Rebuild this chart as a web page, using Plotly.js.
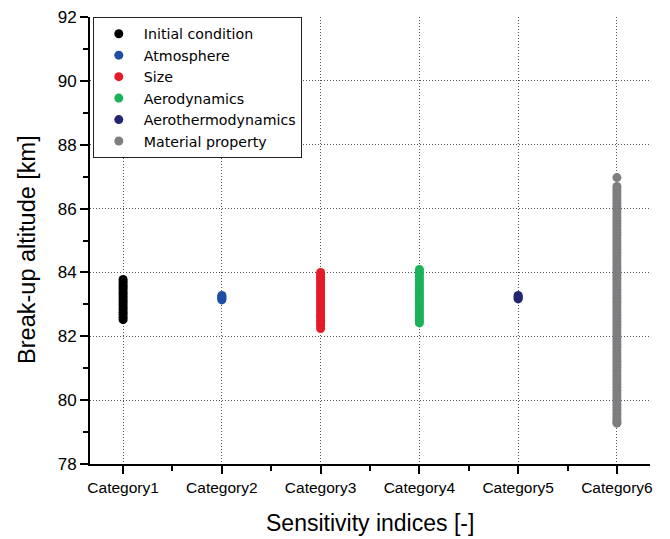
<!DOCTYPE html>
<html>
<head>
<meta charset="utf-8">
<script src="https://cdn.plot.ly/plotly-3.0.1.min.js"></script>
<style>html,body{margin:0;padding:0;background:#fff;}#chart{width:670px;height:539px;}</style>
</head>
<body>
<div id="chart"></div>
<script>
const categories = ["Category1","Category2","Category3","Category4","Category5","Category6"];
const seriesNames = ["Initial condition","Atmosphere","Size","Aerodynamics","Aerothermodynamics","Material property"];
const colors = ["#000000","#1f4fa3","#e41c28","#1bb25a","#242570","#7d7e80"];
const xTitle = "Sensitivity indices [-]";
const yTitle = "Break-up altitude [km]";

const initialCondition = [82.52,82.60,82.68,82.75,82.83,82.90,82.98,83.05,83.12,83.20,83.27,83.35,83.42,83.50,83.57,83.64,83.71,83.78];
const atmosphere = [83.14,83.18,83.21,83.25,83.28];
const size = [82.24,82.34,82.42,82.50,82.58,82.66,82.74,82.82,82.90,82.98,83.06,83.14,83.22,83.30,83.38,83.46,83.54,83.62,83.70,83.78,83.86,83.93,84.00];
const aerodynamics = [82.42,82.50,82.58,82.66,82.74,82.82,82.90,82.98,83.06,83.14,83.22,83.30,83.38,83.46,83.54,83.62,83.70,83.78,83.86,83.94,84.02,84.09];
const aerothermodynamics = [83.17,83.20,83.24,83.28];
const materialProperty = [86.97,86.69,86.61,86.52,86.43,86.34,86.25,86.16,86.07,85.98,85.89,85.80,85.71,85.62,85.53,85.44,85.35,85.26,85.17,85.08,84.99,84.90,84.81,84.72,84.63,84.54,84.45,84.36,84.27,84.18,84.09,84.00,83.91,83.82,83.73,83.64,83.55,83.46,83.37,83.28,83.19,83.10,83.01,82.92,82.83,82.74,82.65,82.56,82.47,82.38,82.29,82.20,82.11,82.02,81.93,81.84,81.75,81.66,81.57,81.48,81.39,81.30,81.21,81.12,81.03,80.94,80.85,80.76,80.67,80.58,80.49,80.40,80.31,80.22,80.13,80.04,79.95,79.86,79.77,79.68,79.59,79.50,79.41,79.34,79.28];

const yTickVals = [78,80,82,84,86,88,90,92];

const allSeries = [initialCondition, atmosphere, size, aerodynamics, aerothermodynamics, materialProperty];
const traces = allSeries.map((vals, i) => ({
  type: "scatter",
  mode: "markers",
  name: seriesNames[i],
  x: vals.map(() => i + 1),
  y: vals,
  marker: {color: colors[i], size: 9, line: {width: 0}},
  cliponaxis: false
}));

const layout = {
  width: 670, height: 539,
  margin: {l: 90, r: 20, t: 17, b: 75},
  paper_bgcolor: "#fff", plot_bgcolor: "#fff",
  font: {family: "Liberation Sans, Arial, sans-serif", color: "#000"},
  showlegend: true,
  legend: {
    x: 0.005, y: 1.0, xanchor: "left", yanchor: "top",
    bordercolor: "#222", borderwidth: 1, bgcolor: "#fff",
    font: {size: 14.2, family: "DejaVu Sans, Liberation Sans, sans-serif"},
    tracegroupgap: 0, itemwidth: 40
  },
  xaxis: {
    range: [0.665, 6.335],
    tickmode: "array", tickvals: [1,2,3,4,5,6], ticktext: categories,
    ticks: "outside", ticklen: 8, tickwidth: 2, tickcolor: "#000",
    showline: true, linewidth: 2, linecolor: "#000",
    showgrid: true, gridcolor: "#555", griddash: "1px,2px", gridwidth: 1,
    zeroline: false,
    tickfont: {size: 15.5},
    minor: {tickmode: "linear", tick0: 0.5, dtick: 1, ticks: "outside", ticklen: 5, tickwidth: 2, tickcolor: "#000", showgrid: false}
  },
  yaxis: {
    range: [78, 92],
    tickmode: "array", tickvals: yTickVals,
    ticks: "outside", ticklen: 8, tickwidth: 2, tickcolor: "#000",
    showline: true, linewidth: 2, linecolor: "#000",
    showgrid: true, gridcolor: "#555", griddash: "1px,2px", gridwidth: 1,
    zeroline: false,
    tickfont: {size: 17},
    minor: {tickmode: "linear", tick0: 79, dtick: 2, ticks: "outside", ticklen: 5, tickwidth: 2, tickcolor: "#000", showgrid: false}
  },
  annotations: [
    {text: yTitle, xref: "paper", yref: "paper", x: 0, y: 0.479, xanchor: "center", yanchor: "middle",
     xshift: -63, textangle: -90, showarrow: false, font: {size: 23.5}},
    {text: xTitle, xref: "paper", yref: "paper", x: 0.5, y: -0.132, xanchor: "center", yanchor: "middle",
     showarrow: false, font: {size: 23}}
  ]
};

Plotly.newPlot("chart", traces, layout, {displayModeBar: false, staticPlot: true});
</script>
</body>
</html>
